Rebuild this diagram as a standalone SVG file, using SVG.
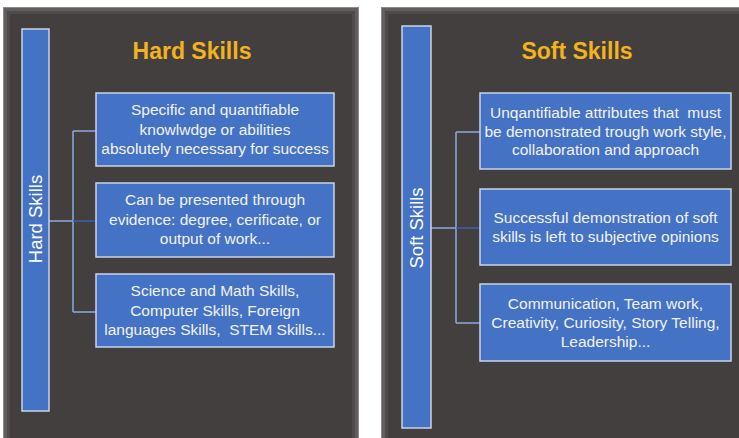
<svg xmlns="http://www.w3.org/2000/svg" width="739" height="438" viewBox="0 0 739 438">
<style>
.p0{fill:#8d8988}
.p1{fill:#625e5d}
.p2{fill:#4f4b4a}
.p3{fill:#433f3e}
.bar{fill:#4472c4;stroke:#c9d3e8;stroke-width:1.5}
.box{fill:#4472c4;stroke:#c9d3e8;stroke-width:1.5}
.t{font-family:"Liberation Sans",Arial,sans-serif;font-size:15.5px;fill:#f2f2f2;text-anchor:middle}
.vt{font-family:"Liberation Sans",Arial,sans-serif;font-size:18.5px;fill:#ffffff;text-anchor:middle;dominant-baseline:central}
.title{font-family:"Liberation Sans",Arial,sans-serif;font-size:23px;font-weight:bold;fill:#f2b31e;text-anchor:middle}
.c{fill:none;stroke:#8eaadb;stroke-width:1.5}
.cd{fill:none;stroke:#3a62b0;stroke-width:1.5}
</style>
<rect width="739" height="438" fill="#ffffff"/>
<g id="panel-hard">
<rect class="p0" x="3" y="7" width="356" height="440"/>
<rect class="p1" x="4" y="8" width="354" height="440"/>
<rect class="p2" x="7" y="11" width="348" height="440"/>
<rect class="p3" x="10" y="14" width="342" height="440"/>
<text class="title" x="192" y="59">Hard Skills</text>
</g>
<g id="panel-soft">
<rect class="p0" x="381" y="7" width="370" height="440"/>
<rect class="p1" x="382" y="8" width="370" height="440"/>
<rect class="p2" x="385" y="11" width="370" height="440"/>
<rect class="p3" x="388" y="14" width="370" height="440"/>
<text class="title" x="577" y="59">Soft Skills</text>
</g>
<g id="connectors">
<path class="c" d="M49 221H73M73 131V312M73 131H96M73 312H96"/>
<path class="cd" d="M73 221H96"/>
<path class="c" d="M431 228H456M456 132V323M456 132H480M456 323H480"/>
<path class="cd" d="M456 228H480"/>
</g>
<g id="hard-root">
<rect class="bar" x="22" y="29" width="27" height="382"/>
<text class="vt" transform="translate(35.5 219) rotate(-90)">Hard Skills</text>
</g>
<g id="hard-1">
<rect class="box" x="96" y="93" width="238" height="73"/>
<text class="t" x="215" y="115">Specific and quantifiable</text>
<text class="t" x="215" y="134.5">knowlwdge or abilities</text>
<text class="t" x="215" y="154">absolutely necessary for success</text>
</g>
<g id="hard-2">
<rect class="box" x="96" y="183" width="238" height="74"/>
<text class="t" x="215" y="205">Can be presented through</text>
<text class="t" x="215" y="224.5">evidence: degree, cerificate, or</text>
<text class="t" x="215" y="244">output of work...</text>
</g>
<g id="hard-3">
<rect class="box" x="96" y="274" width="238" height="73"/>
<text class="t" x="215" y="296">Science and Math Skills,</text>
<text class="t" x="215" y="315.5">Computer Skills, Foreign</text>
<text class="t" x="215" y="335" xml:space="preserve">languages Skills,  STEM Skills...</text>
</g>
<g id="soft-root">
<rect class="bar" x="402" y="26" width="29" height="402"/>
<text class="vt" transform="translate(416.5 228) rotate(-90)">Soft Skills</text>
</g>
<g id="soft-1">
<rect class="box" x="480" y="93" width="251" height="76"/>
<text class="t" x="605.5" y="118" xml:space="preserve">Unqantifiable attributes that  must</text>
<text class="t" x="605.5" y="136.5">be demonstrated trough work style,</text>
<text class="t" x="605.5" y="155">collaboration and approach</text>
</g>
<g id="soft-2">
<rect class="box" x="480" y="189" width="251" height="76"/>
<text class="t" x="605.5" y="223">Successful demonstration of soft</text>
<text class="t" x="605.5" y="241.5">skills is left to subjective opinions</text>
</g>
<g id="soft-3">
<rect class="box" x="480" y="284" width="251" height="77"/>
<text class="t" x="605.5" y="309">Communication, Team work,</text>
<text class="t" x="605.5" y="328">Creativity, Curiosity, Story Telling,</text>
<text class="t" x="605.5" y="346.5">Leadership...</text>
</g>
</svg>
